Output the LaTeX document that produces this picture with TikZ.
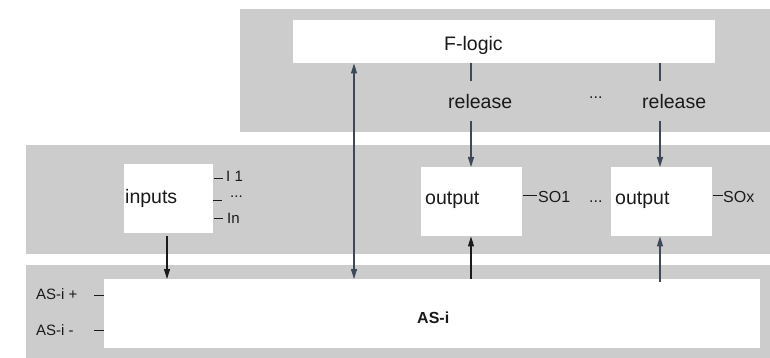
\documentclass[tikz,border=0pt]{standalone}
\usepackage{fontspec}
\setmainfont{Liberation Sans}
\usetikzlibrary{arrows.meta,calc}
\definecolor{panelgray}{HTML}{CCCCCC}
\definecolor{slate}{HTML}{3E4858}
\definecolor{ink}{HTML}{1A1A1A}
\begin{document}
\begin{tikzpicture}[x=1pt,y=-1pt,
  panel/.style={fill=panelgray, draw=none, anchor=north west, inner sep=0pt},
  box/.style={fill=white, draw=none, anchor=north west, inner sep=0pt},
  big/.style={font=\fontsize{19.5}{22}\selectfont, text=ink, inner sep=0pt, anchor=base west},
  small/.style={font=\fontsize{16}{18}\selectfont, text=ink, inner sep=0pt, anchor=base west},
  tiny/.style={font=\fontsize{15}{17}\selectfont, text=ink, inner sep=0pt, anchor=base west},
  asilabel/.style={font=\fontsize{15}{17}\selectfont, text=ink, inner sep=0pt, anchor=base west},
  wire/.style={draw=slate, line width=1.1pt},
  arr/.style={wire, -{Triangle[length=10pt,width=6pt]}},
  dblarr/.style={wire, {Triangle[length=10pt,width=6pt]}-{Triangle[length=10pt,width=6pt]}},
  stub/.style={draw=ink, line width=0.9pt},
]
\useasboundingbox (0,0) rectangle (770,358);

% grey panels
\node[panel, minimum width=530pt, minimum height=123pt] (ptop) at (240,9) {};
\node[panel, minimum width=744pt, minimum height=109pt] (pmid) at (26,145) {};
\node[panel, minimum width=744pt, minimum height=93pt]  (pbot) at (26,265) {};

% white function blocks
\node[box, minimum width=422pt, minimum height=43pt] (flogic) at (293,20) {};
\node[box, minimum width=89pt,  minimum height=69pt] (inputs) at (124,164) {};
\node[box, minimum width=101pt, minimum height=69pt] (out1)   at (421,167) {};
\node[box, minimum width=101pt, minimum height=69pt] (out2)   at (611,167) {};
\node[box, minimum width=656pt, minimum height=69pt] (asi)    at (104,279) {};

% block texts
\node[big] (tflogic) at (444,51) {F-logic};
\node[big] (tinputs) at (125,203) {inputs};
\node[big] (tout1)   at (425,204) {output};
\node[big] (tout2)   at (615,204) {output};
\node[small, font=\fontsize{16}{18}\selectfont\bfseries] (tasi) at (417,323) {AS-i};

% release signals
\node[big] (rel1) at (448,109) {release};
\node[big] (rel2) at (642,109) {release};
\node[small] (reldots) at (589,98.5) {...};

% vertical positions of the connectors
\coordinate (xin)  at (167,0);
\coordinate (xbus) at (354,0);
\coordinate (xr1)  at (471,0);
\coordinate (xr2)  at (660,0);
\coordinate (rl1end) at (471,81);
\coordinate (rl2end) at (660,81);
\coordinate (ra1beg) at (471,121);
\coordinate (ra2beg) at (660,121);

% F-logic -> release -> outputs
\draw[wire] (flogic.south -| xr1) -- (rl1end);
\draw[wire] (flogic.south -| xr2) -- (rl2end);
\draw[arr] (ra1beg) -- (out1.north -| xr1);
\draw[arr] (ra2beg) -- (out2.north -| xr2);

% inputs -> AS-i
\draw[arr, draw=ink, shorten <=3pt] (inputs.south -| xin) -- (asi.north -| xin);
% F-logic <-> AS-i
\draw[dblarr] (flogic.south -| xbus) -- (asi.north -| xbus);
% AS-i -> outputs
\draw[arr, draw=ink] (asi.north -| xr1) -- (out1.south -| xr1);
\draw[arr, shorten <=-3pt] (asi.north -| xr2) -- (out2.south -| xr2);

% input terminals
\draw[stub] ($(inputs.north east)+(1,14)$) -- ++(9,0);
\draw[stub] ($(inputs.north east)+(0,36)$) -- ++(9,0);
\draw[stub] ($(inputs.north east)+(1,54)$) -- ++(9,0);
\node[tiny] (ti1) at (226,182) {I 1};
\node[tiny] (tidots) at (230,197) {...};
\node[tiny] (tin) at (227,223) {In};

% output terminals
\draw[stub] ($(out1.north east)+(1,28)$) -- ++(14,0);
\node[small] (tso1) at (538,202) {SO1};
\node[small] (todots) at (589,202) {...};
\draw[stub] ($(out2.north east)+(1,28)$) -- ++(10,0);
\node[small] (tsox) at (723,202) {SOx};

% AS-i terminals
\node[asilabel] (tasip) at (36,299) {AS-i +};
\node[asilabel] (tasim) at (36,335) {AS-i -};
\draw[stub] ($(asi.north west)+(-10,16)$) -- ++(10,0);
\draw[stub] ($(asi.north west)+(-10,51)$) -- ++(10,0);
\end{tikzpicture}
\end{document}
